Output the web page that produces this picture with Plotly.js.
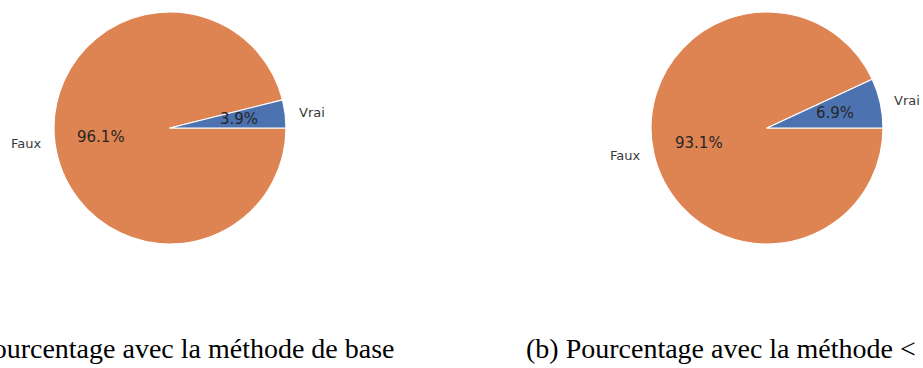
<!DOCTYPE html>
<html>
<head>
<meta charset="utf-8">
<script src="https://cdn.plot.ly/plotly-3.0.1.min.js"></script>
<style>
  html, body { margin: 0; padding: 0; background: #fff; }
  #chart { width: 923px; height: 368px; }
</style>
</head>
<body>
<div id="chart"></div>
<script>
const W = 923, H = 368;

// données
const labels = ['Vrai', 'Faux'];
const valuesA = [3.9, 96.1];
const valuesB = [6.9, 93.1];
const captions = ['(a) Pourcentage avec la méthode de base', '(b) Pourcentage avec la méthode <'];
const colors = ['#4c72b0', '#dd8452'];

// position des camemberts en pixels (centre, rayon)
const pies = [
  { values: valuesA, cx: 170, cy: 128, r: 116 },
  { values: valuesB, cx: 767, cy: 128, r: 116 }
];

let data = [];
let annotations = [];

pies.forEach(function (p) {
  // ordre inversé + sens horaire depuis 3h = sens anti-horaire de matplotlib
  data.push({
    type: 'pie',
    values: p.values.slice().reverse(),
    labels: labels.slice().reverse(),
    sort: false,
    direction: 'clockwise',
    rotation: 90,
    textinfo: 'none',
    hoverinfo: 'skip',
    showlegend: false,
    marker: { colors: colors.slice().reverse(), line: { color: '#ffffff', width: 1.2 } },
    domain: {
      x: [(p.cx - p.r) / W, (p.cx + p.r) / W],
      y: [1 - (p.cy + p.r) / H, 1 - (p.cy - p.r) / H]
    }
  });

  // étiquettes à la manière de matplotlib : labeldistance 1.1, pctdistance 0.6
  const total = p.values.reduce((a, b) => a + b, 0);
  let start = 0;
  p.values.forEach(function (v, i) {
    const frac = v / total;
    const mid = (start + frac / 2) * 2 * Math.PI;
    start += frac;
    const c = Math.cos(mid), s = Math.sin(mid);
    annotations.push({
      xref: 'paper', yref: 'paper',
      x: (p.cx + 1.1 * p.r * c) / W,
      y: 1 - (p.cy - 1.1 * p.r * s) / H,
      xanchor: c > 0 ? 'left' : 'right', yanchor: 'middle',
      text: labels[i], showarrow: false,
      font: { family: 'DejaVu Sans', size: 13, color: '#3a3a3a' }
    });
    annotations.push({
      xref: 'paper', yref: 'paper',
      x: (p.cx + 0.6 * p.r * c) / W,
      y: 1 - (p.cy - 0.6 * p.r * s) / H,
      xanchor: 'center', yanchor: 'middle',
      text: (frac * 100).toFixed(1) + '%', showarrow: false,
      font: { family: 'DejaVu Sans', size: 15, color: '#262626' }
    });
  });
});

// légendes sous les figures (coupées par le cadre)
annotations.push({
  xref: 'paper', yref: 'paper', x: 397 / W, y: 1 - 348 / H,
  xanchor: 'right', yanchor: 'middle', showarrow: false,
  text: captions[0],
  font: { family: 'Liberation Serif', size: 28, color: '#000' }
});
annotations.push({
  xref: 'paper', yref: 'paper', x: 524 / W, y: 1 - 348 / H,
  xanchor: 'left', yanchor: 'middle', showarrow: false,
  text: captions[1],
  font: { family: 'Liberation Serif', size: 28, color: '#000' }
});

const layout = {
  width: W, height: H,
  margin: { l: 0, r: 0, t: 0, b: 0 },
  paper_bgcolor: '#fff',
  annotations: annotations
};

Plotly.newPlot('chart', data, layout, { displayModeBar: false, staticPlot: true });
</script>
</body>
</html>
